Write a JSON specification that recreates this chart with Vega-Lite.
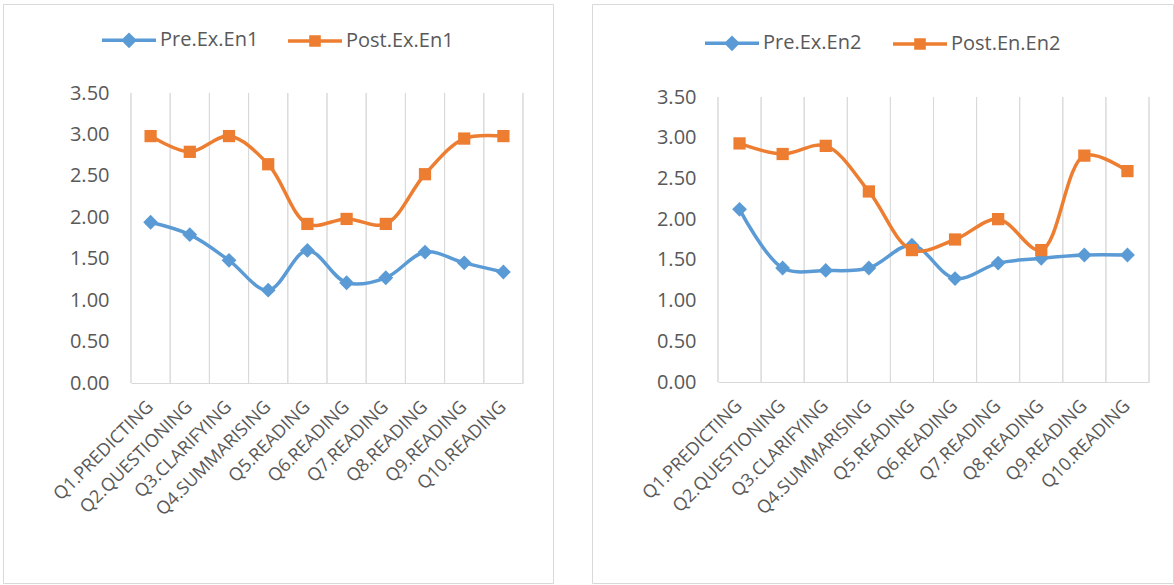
{
  "$schema": "https://vega.github.io/schema/vega-lite/v6.json",
  "background": "white",
  "padding": {"left": 2, "top": 3, "right": 0, "bottom": 0},
  "spacing": 37,
  "resolve": {"scale": {"color": "independent", "shape": "independent"}, "legend": {"color": "independent", "shape": "independent"}},
  "config": {"view": {"stroke": "#d9d9d9", "strokeWidth": 1}},
  "datasets": {
    "left": [
      {"q": "Q1.PREDICTING", "series": "Pre.Ex.En1", "value": 1.94},
      {"q": "Q2.QUESTIONING", "series": "Pre.Ex.En1", "value": 1.79},
      {"q": "Q3.CLARIFYING", "series": "Pre.Ex.En1", "value": 1.48},
      {"q": "Q4.SUMMARISING", "series": "Pre.Ex.En1", "value": 1.12},
      {"q": "Q5.READING", "series": "Pre.Ex.En1", "value": 1.6},
      {"q": "Q6.READING", "series": "Pre.Ex.En1", "value": 1.21},
      {"q": "Q7.READING", "series": "Pre.Ex.En1", "value": 1.27},
      {"q": "Q8.READING", "series": "Pre.Ex.En1", "value": 1.58},
      {"q": "Q9.READING", "series": "Pre.Ex.En1", "value": 1.45},
      {"q": "Q10.READING", "series": "Pre.Ex.En1", "value": 1.34},
      {"q": "Q1.PREDICTING", "series": "Post.Ex.En1", "value": 2.98},
      {"q": "Q2.QUESTIONING", "series": "Post.Ex.En1", "value": 2.79},
      {"q": "Q3.CLARIFYING", "series": "Post.Ex.En1", "value": 2.98},
      {"q": "Q4.SUMMARISING", "series": "Post.Ex.En1", "value": 2.64},
      {"q": "Q5.READING", "series": "Post.Ex.En1", "value": 1.92},
      {"q": "Q6.READING", "series": "Post.Ex.En1", "value": 1.98},
      {"q": "Q7.READING", "series": "Post.Ex.En1", "value": 1.92},
      {"q": "Q8.READING", "series": "Post.Ex.En1", "value": 2.52},
      {"q": "Q9.READING", "series": "Post.Ex.En1", "value": 2.95},
      {"q": "Q10.READING", "series": "Post.Ex.En1", "value": 2.98}
    ],
    "right": [
      {"q": "Q1.PREDICTING", "series": "Pre.Ex.En2", "value": 2.12},
      {"q": "Q2.QUESTIONING", "series": "Pre.Ex.En2", "value": 1.4},
      {"q": "Q3.CLARIFYING", "series": "Pre.Ex.En2", "value": 1.37},
      {"q": "Q4.SUMMARISING", "series": "Pre.Ex.En2", "value": 1.4},
      {"q": "Q5.READING", "series": "Pre.Ex.En2", "value": 1.68},
      {"q": "Q6.READING", "series": "Pre.Ex.En2", "value": 1.27},
      {"q": "Q7.READING", "series": "Pre.Ex.En2", "value": 1.46},
      {"q": "Q8.READING", "series": "Pre.Ex.En2", "value": 1.52},
      {"q": "Q9.READING", "series": "Pre.Ex.En2", "value": 1.56},
      {"q": "Q10.READING", "series": "Pre.Ex.En2", "value": 1.56},
      {"q": "Q1.PREDICTING", "series": "Post.En.En2", "value": 2.93},
      {"q": "Q2.QUESTIONING", "series": "Post.En.En2", "value": 2.8},
      {"q": "Q3.CLARIFYING", "series": "Post.En.En2", "value": 2.9},
      {"q": "Q4.SUMMARISING", "series": "Post.En.En2", "value": 2.34},
      {"q": "Q5.READING", "series": "Post.En.En2", "value": 1.62},
      {"q": "Q6.READING", "series": "Post.En.En2", "value": 1.75},
      {"q": "Q7.READING", "series": "Post.En.En2", "value": 2.0},
      {"q": "Q8.READING", "series": "Post.En.En2", "value": 1.62},
      {"q": "Q9.READING", "series": "Post.En.En2", "value": 2.78},
      {"q": "Q10.READING", "series": "Post.En.En2", "value": 2.59}
    ]
  },
  "hconcat": [
    {
      "width": 550,
      "height": 579,
      "data": {"name": "left"},
      "layer": [
        {
          "mark": {"type": "rule", "color": "#d9d9d9", "strokeWidth": 1},
          "encoding": {
            "x": {"field": "q", "type": "nominal", "bandPosition": 0,
              "scale": {"type": "band", "domain": ["Q1.PREDICTING", "Q2.QUESTIONING", "Q3.CLARIFYING", "Q4.SUMMARISING", "Q5.READING", "Q6.READING", "Q7.READING", "Q8.READING", "Q9.READING", "Q10.READING"], "range": [128, 520], "paddingInner": 0, "paddingOuter": 0},
              "axis": {"title": null, "offset": -200, "domain": true, "domainColor": "#d9d9d9", "domainWidth": 1, "ticks": false, "grid": false, "labelAngle": -45, "labelAlign": "right", "labelBaseline": "middle", "labelFont": "Open Sans", "labelFontSize": 18, "labelColor": "#595959", "labelPadding": 21, "labelOverlap": false, "labelLimit": 0, "labelBound": false, "bandPosition": 0.5}},
            "y": {"datum": 0, "type": "quantitative",
              "scale": {"domain": [0, 3.5], "range": [379, 89], "nice": false, "zero": true},
              "axis": {"title": null, "values": [0, 0.5, 1, 1.5, 2, 2.5, 3, 3.5], "format": ".2f", "offset": -128, "domain": false, "ticks": false, "grid": false, "labelFont": "Open Sans", "labelFontSize": 20, "labelColor": "#595959", "labelPadding": 22}},
            "y2": {"datum": 3.5}
          }
        },
        {
          "transform": [{"filter": "datum.q === 'Q10.READING'"}],
          "mark": {"type": "rule", "color": "#d9d9d9", "strokeWidth": 1},
          "encoding": {
            "x": {"field": "q", "type": "nominal", "bandPosition": 1},
            "y": {"datum": 0, "type": "quantitative"},
            "y2": {"datum": 3.5}
          }
        },
        {
          "mark": {"type": "line", "interpolate": "catmull-rom", "strokeWidth": 3.5},
          "encoding": {
            "x": {"field": "q", "type": "nominal", "bandPosition": 0.5},
            "y": {"field": "value", "type": "quantitative"},
            "color": {"field": "series", "type": "nominal", "scale": {"domain": ["Pre.Ex.En1", "Post.Ex.En1"], "range": ["#5B9BD5", "#ED7D31"]},
              "legend": {"orient": "none", "legendX": 97, "legendY": 7, "direction": "horizontal", "title": null, "labelFont": "Open Sans", "labelFontSize": 20, "labelColor": "#595959", "symbolSize": 2916, "symbolStrokeWidth": 3.5, "columnPadding": 22, "labelOffset": 2, "padding": 0, "symbolOpacity": 1,
                "encode": {"symbols": {"update": {"opacity": {"value": 1}, "fill": {"signal": "indexof(datum.value, 'Pre') === 0 ? '#5B9BD5' : '#ED7D31'"}, "stroke": {"signal": "indexof(datum.value, 'Pre') === 0 ? '#5B9BD5' : '#ED7D31'"}}}}}}
          }
        },
        {
          "transform": [{"filter": "datum.series === 'Pre.Ex.En1'"}],
          "mark": {"type": "point", "shape": "diamond", "filled": true, "opacity": 1, "size": 220},
          "encoding": {
            "x": {"field": "q", "type": "nominal", "bandPosition": 0.5},
            "y": {"field": "value", "type": "quantitative"},
            "color": {"field": "series", "type": "nominal"}
          }
        },
        {
          "transform": [{"filter": "datum.series === 'Post.Ex.En1'"}],
          "mark": {"type": "point", "shape": "square", "filled": true, "opacity": 1, "size": 150},
          "encoding": {
            "x": {"field": "q", "type": "nominal", "bandPosition": 0.5},
            "y": {"field": "value", "type": "quantitative"},
            "color": {"field": "series", "type": "nominal"}
          }
        },
        {
          "transform": [{"filter": "false"}],
          "mark": {"type": "point", "filled": true, "strokeWidth": 3.5},
          "encoding": {
            "x": {"field": "q", "type": "nominal", "bandPosition": 0.5},
            "y": {"field": "value", "type": "quantitative"},
            "color": {"field": "series", "type": "nominal"},
            "shape": {"field": "series", "type": "nominal", "scale": {"domain": ["Pre.Ex.En1", "Post.Ex.En1"], "range": ["M-1,0L1,0M0,-0.2L0.2,0L0,0.2L-0.2,0Z", "M-1,0L1,0M-0.15,-0.15L0.15,-0.15L0.15,0.15L-0.15,0.15Z"]},
              "legend": {"orient": "none", "legendX": 97, "legendY": 7, "direction": "horizontal", "title": null, "labelFont": "Open Sans", "labelFontSize": 20, "labelColor": "#595959", "symbolSize": 2916, "symbolStrokeWidth": 3.5, "columnPadding": 22, "labelOffset": 2, "padding": 0, "symbolOpacity": 1,
                "encode": {"symbols": {"update": {"opacity": {"value": 1}, "fill": {"signal": "indexof(datum.value, 'Pre') === 0 ? '#5B9BD5' : '#ED7D31'"}, "stroke": {"signal": "indexof(datum.value, 'Pre') === 0 ? '#5B9BD5' : '#ED7D31'"}}}}}}
          }
        }
      ]
    },
    {
      "width": 581,
      "height": 579,
      "data": {"name": "right"},
      "layer": [
        {
          "mark": {"type": "rule", "color": "#d9d9d9", "strokeWidth": 1},
          "encoding": {
            "x": {"field": "q", "type": "nominal", "bandPosition": 0,
              "scale": {"type": "band", "domain": ["Q1.PREDICTING", "Q2.QUESTIONING", "Q3.CLARIFYING", "Q4.SUMMARISING", "Q5.READING", "Q6.READING", "Q7.READING", "Q8.READING", "Q9.READING", "Q10.READING"], "range": [126, 557], "paddingInner": 0, "paddingOuter": 0},
              "axis": {"title": null, "offset": -201, "domain": true, "domainColor": "#d9d9d9", "domainWidth": 1, "ticks": false, "grid": false, "labelAngle": -45, "labelAlign": "right", "labelBaseline": "middle", "labelFont": "Open Sans", "labelFontSize": 18, "labelColor": "#595959", "labelPadding": 21, "labelOverlap": false, "labelLimit": 0, "labelBound": false, "bandPosition": 0.5}},
            "y": {"datum": 0, "type": "quantitative",
              "scale": {"domain": [0, 3.5], "range": [378, 93], "nice": false, "zero": true},
              "axis": {"title": null, "values": [0, 0.5, 1, 1.5, 2, 2.5, 3, 3.5], "format": ".2f", "offset": -126, "domain": false, "ticks": false, "grid": false, "labelFont": "Open Sans", "labelFontSize": 20, "labelColor": "#595959", "labelPadding": 22}},
            "y2": {"datum": 3.5}
          }
        },
        {
          "transform": [{"filter": "datum.q === 'Q10.READING'"}],
          "mark": {"type": "rule", "color": "#d9d9d9", "strokeWidth": 1},
          "encoding": {
            "x": {"field": "q", "type": "nominal", "bandPosition": 1},
            "y": {"datum": 0, "type": "quantitative"},
            "y2": {"datum": 3.5}
          }
        },
        {
          "mark": {"type": "line", "interpolate": "catmull-rom", "strokeWidth": 3.5},
          "encoding": {
            "x": {"field": "q", "type": "nominal", "bandPosition": 0.5},
            "y": {"field": "value", "type": "quantitative"},
            "color": {"field": "series", "type": "nominal", "scale": {"domain": ["Pre.Ex.En2", "Post.En.En2"], "range": ["#5B9BD5", "#ED7D31"]},
              "legend": {"orient": "none", "legendX": 111, "legendY": 10, "direction": "horizontal", "title": null, "labelFont": "Open Sans", "labelFontSize": 20, "labelColor": "#595959", "symbolSize": 2916, "symbolStrokeWidth": 3.5, "columnPadding": 24, "labelOffset": 2, "padding": 0, "symbolOpacity": 1,
                "encode": {"symbols": {"update": {"opacity": {"value": 1}, "fill": {"signal": "indexof(datum.value, 'Pre') === 0 ? '#5B9BD5' : '#ED7D31'"}, "stroke": {"signal": "indexof(datum.value, 'Pre') === 0 ? '#5B9BD5' : '#ED7D31'"}}}}}}
          }
        },
        {
          "transform": [{"filter": "datum.series === 'Pre.Ex.En2'"}],
          "mark": {"type": "point", "shape": "diamond", "filled": true, "opacity": 1, "size": 220},
          "encoding": {
            "x": {"field": "q", "type": "nominal", "bandPosition": 0.5},
            "y": {"field": "value", "type": "quantitative"},
            "color": {"field": "series", "type": "nominal"}
          }
        },
        {
          "transform": [{"filter": "datum.series === 'Post.En.En2'"}],
          "mark": {"type": "point", "shape": "square", "filled": true, "opacity": 1, "size": 150},
          "encoding": {
            "x": {"field": "q", "type": "nominal", "bandPosition": 0.5},
            "y": {"field": "value", "type": "quantitative"},
            "color": {"field": "series", "type": "nominal"}
          }
        },
        {
          "transform": [{"filter": "false"}],
          "mark": {"type": "point", "filled": true, "strokeWidth": 3.5},
          "encoding": {
            "x": {"field": "q", "type": "nominal", "bandPosition": 0.5},
            "y": {"field": "value", "type": "quantitative"},
            "color": {"field": "series", "type": "nominal"},
            "shape": {"field": "series", "type": "nominal", "scale": {"domain": ["Pre.Ex.En2", "Post.En.En2"], "range": ["M-1,0L1,0M0,-0.2L0.2,0L0,0.2L-0.2,0Z", "M-1,0L1,0M-0.15,-0.15L0.15,-0.15L0.15,0.15L-0.15,0.15Z"]},
              "legend": {"orient": "none", "legendX": 111, "legendY": 10, "direction": "horizontal", "title": null, "labelFont": "Open Sans", "labelFontSize": 20, "labelColor": "#595959", "symbolSize": 2916, "symbolStrokeWidth": 3.5, "columnPadding": 24, "labelOffset": 2, "padding": 0, "symbolOpacity": 1,
                "encode": {"symbols": {"update": {"opacity": {"value": 1}, "fill": {"signal": "indexof(datum.value, 'Pre') === 0 ? '#5B9BD5' : '#ED7D31'"}, "stroke": {"signal": "indexof(datum.value, 'Pre') === 0 ? '#5B9BD5' : '#ED7D31'"}}}}}}
          }
        }
      ]
    }
  ]
}
